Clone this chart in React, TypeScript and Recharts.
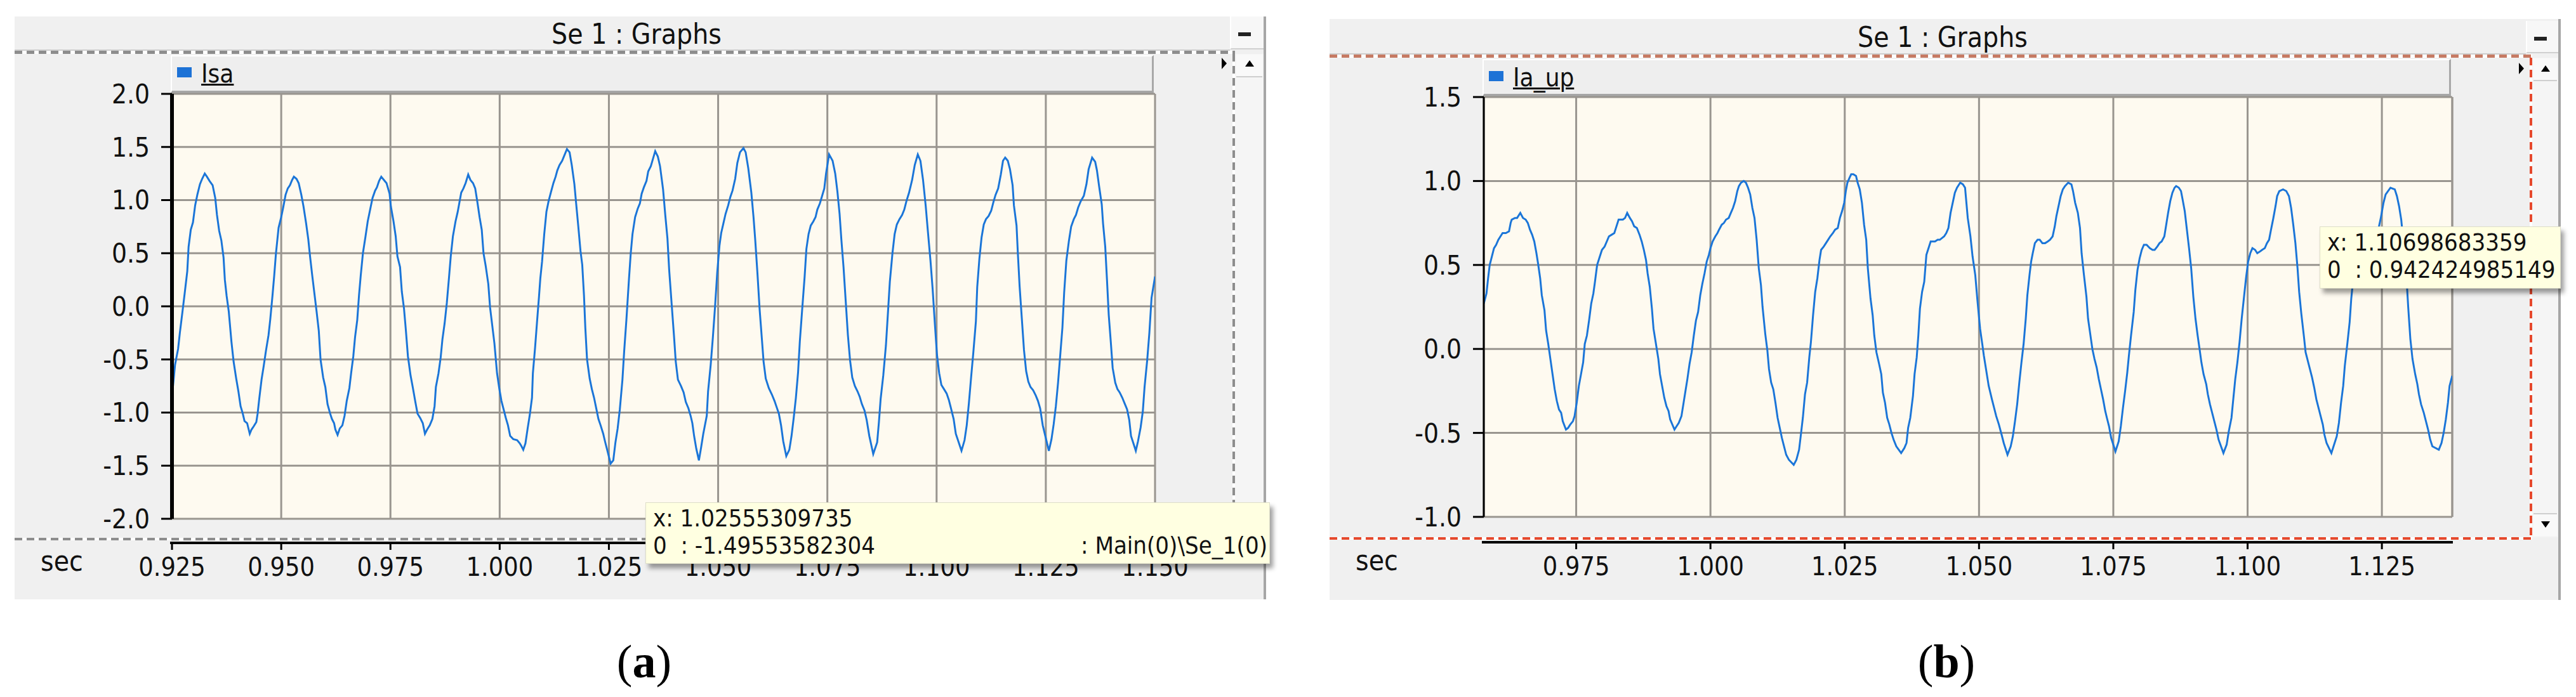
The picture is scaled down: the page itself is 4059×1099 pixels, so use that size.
import React from 'react'
import { LineChart, Line, XAxis, YAxis, CartesianGrid, ReferenceLine } from 'recharts'

const UI_FONT = "'DejaVu Sans Condensed', 'Liberation Sans', Arial, sans-serif"
const BLUE = '#1b75d8'
const GRID = '#99958f'
const CREAM = '#fefaf0'
const CHROME = '#f0f0f0'

// Isa (panel a), [time in s, value]
const isaPoints: [number, number][] = [
  [0.925, -0.85], [0.9257, -0.55], [0.9264, -0.4], [0.9268, -0.25], [0.9274, -0.05], [0.9279, 0.12], [0.9285, 0.33],
  [0.9288, 0.56], [0.9293, 0.72], [0.9298, 0.79], [0.9303, 0.95], [0.9308, 1.05], [0.9314, 1.15], [0.9319, 1.2],
  [0.9325, 1.25], [0.933, 1.22], [0.9336, 1.18], [0.9343, 1.14], [0.9349, 1.02], [0.9353, 0.86], [0.9358, 0.71],
  [0.9363, 0.62], [0.9368, 0.46], [0.9371, 0.25], [0.9375, 0.1], [0.938, -0.05], [0.9386, -0.33], [0.9391, -0.52],
  [0.9397, -0.68], [0.9402, -0.8], [0.9407, -0.94], [0.9412, -1.01], [0.9416, -1.08], [0.9422, -1.1], [0.9428, -1.2],
  [0.9432, -1.16], [0.9437, -1.13], [0.9443, -1.09], [0.9446, -1.01], [0.945, -0.86], [0.9455, -0.69], [0.946, -0.56],
  [0.9465, -0.42], [0.9471, -0.27], [0.9475, -0.12], [0.948, 0.1], [0.9484, 0.29], [0.9488, 0.5], [0.9494, 0.74],
  [0.95, 0.84], [0.9505, 0.94], [0.951, 1.05], [0.9515, 1.11], [0.952, 1.14], [0.9525, 1.19], [0.9529, 1.22],
  [0.9535, 1.2], [0.954, 1.16], [0.9546, 1.05], [0.9551, 0.94], [0.9557, 0.78], [0.9562, 0.63], [0.9566, 0.47],
  [0.9571, 0.29], [0.9576, 0.12], [0.9581, -0.05], [0.9586, -0.23], [0.959, -0.5], [0.9596, -0.67], [0.9601, -0.76],
  [0.9606, -0.92], [0.9612, -1.01], [0.9616, -1.06], [0.9621, -1.1], [0.9624, -1.16], [0.9629, -1.21], [0.9634, -1.15],
  [0.964, -1.12], [0.9645, -1.03], [0.965, -0.89], [0.9656, -0.77], [0.966, -0.63], [0.9665, -0.47], [0.9669, -0.29],
  [0.9674, -0.13], [0.9678, 0.1], [0.9682, 0.29], [0.9687, 0.5], [0.9693, 0.66], [0.9698, 0.8], [0.9704, 0.92],
  [0.9709, 1.02], [0.9715, 1.09], [0.9719, 1.12], [0.9724, 1.18], [0.9729, 1.22], [0.9735, 1.19], [0.9741, 1.16],
  [0.9748, 1.06], [0.9751, 0.94], [0.9757, 0.8], [0.9762, 0.66], [0.9766, 0.47], [0.9772, 0.37], [0.9776, 0.14],
  [0.9781, -0.02], [0.9785, -0.21], [0.979, -0.47], [0.9796, -0.65], [0.9801, -0.76], [0.9807, -0.9], [0.9812, -1.01],
  [0.9818, -1.05], [0.9824, -1.1], [0.9829, -1.2], [0.9834, -1.16], [0.984, -1.12], [0.9846, -1.06], [0.9851, -0.94],
  [0.9854, -0.76], [0.986, -0.63], [0.9865, -0.48], [0.9869, -0.31], [0.9874, -0.16], [0.9879, 0.03], [0.9884, 0.27],
  [0.9888, 0.47], [0.9893, 0.66], [0.9899, 0.8], [0.9904, 0.89], [0.9908, 0.98], [0.9912, 1.07], [0.9917, 1.11],
  [0.9922, 1.16], [0.9928, 1.24], [0.9933, 1.19], [0.9939, 1.16], [0.9944, 1.11], [0.9949, 0.98], [0.9954, 0.84],
  [0.9959, 0.72], [0.9963, 0.5], [0.9968, 0.38], [0.9974, 0.21], [0.9978, -0.01], [0.9983, -0.18], [0.9988, -0.35],
  [0.9994, -0.63], [0.9999, -0.77], [1.0004, -0.89], [1.0009, -0.97], [1.0014, -1.05], [1.0019, -1.12], [1.0024, -1.22],
  [1.0031, -1.25], [1.004, -1.26], [1.0046, -1.29], [1.0049, -1.31], [1.0054, -1.35], [1.0059, -1.29], [1.0064, -1.15],
  [1.0069, -1.02], [1.0074, -0.86], [1.0076, -0.63], [1.0081, -0.39], [1.0086, -0.12], [1.009, 0.09], [1.0093, 0.26],
  [1.0097, 0.42], [1.0102, 0.68], [1.0107, 0.89], [1.0112, 0.99], [1.0117, 1.07], [1.0123, 1.16], [1.0128, 1.22],
  [1.0132, 1.28], [1.0137, 1.33], [1.0143, 1.37], [1.0148, 1.42], [1.0154, 1.48], [1.016, 1.45], [1.0165, 1.33],
  [1.0171, 1.15], [1.0175, 0.97], [1.018, 0.75], [1.0185, 0.52], [1.0189, 0.39], [1.0193, 0.1], [1.0196, -0.2],
  [1.02, -0.5], [1.0206, -0.68], [1.0211, -0.78], [1.0216, -0.86], [1.0222, -0.98], [1.0226, -1.06], [1.0231, -1.12],
  [1.0237, -1.2], [1.0241, -1.27], [1.0246, -1.35], [1.0254, -1.48], [1.026, -1.45], [1.0265, -1.28], [1.027, -1.15],
  [1.0275, -0.97], [1.0281, -0.69], [1.0285, -0.42], [1.029, -0.13], [1.0296, 0.26], [1.03, 0.5], [1.0304, 0.68],
  [1.031, 0.84], [1.0316, 0.92], [1.0321, 0.97], [1.0325, 1.06], [1.033, 1.12], [1.0336, 1.18], [1.034, 1.27],
  [1.0346, 1.32], [1.0351, 1.39], [1.0356, 1.46], [1.0362, 1.41], [1.0367, 1.32], [1.0374, 1.1], [1.0379, 0.86],
  [1.0384, 0.64], [1.0388, 0.34], [1.0394, 0.0], [1.0399, -0.28], [1.0403, -0.52], [1.0408, -0.69], [1.0415, -0.75],
  [1.0421, -0.81], [1.0426, -0.9], [1.0432, -0.96], [1.0437, -1.03], [1.0441, -1.1], [1.0445, -1.22], [1.045, -1.34],
  [1.0456, -1.45], [1.0461, -1.33], [1.0466, -1.2], [1.0474, -1.03], [1.0477, -0.8], [1.0483, -0.55], [1.0488, -0.29],
  [1.0493, 0.0], [1.0498, 0.32], [1.0503, 0.57], [1.0507, 0.69], [1.0512, 0.78], [1.0517, 0.87], [1.0523, 0.95],
  [1.0528, 1.03], [1.0533, 1.09], [1.0539, 1.2], [1.0544, 1.35], [1.055, 1.45], [1.0558, 1.49], [1.0563, 1.45],
  [1.0569, 1.3], [1.0576, 1.07], [1.0581, 0.84], [1.0585, 0.62], [1.059, 0.31], [1.0595, -0.03], [1.06, -0.3],
  [1.0604, -0.52], [1.0609, -0.68], [1.0616, -0.77], [1.0623, -0.83], [1.0629, -0.89], [1.0634, -0.95], [1.0639, -1.01],
  [1.0644, -1.12], [1.0649, -1.27], [1.0656, -1.41], [1.0663, -1.35], [1.0668, -1.22], [1.0673, -1.05], [1.0678, -0.86],
  [1.0683, -0.62], [1.0687, -0.33], [1.0692, -0.05], [1.0698, 0.28], [1.0702, 0.54], [1.0707, 0.68], [1.0712, 0.76],
  [1.0718, 0.8], [1.0723, 0.84], [1.0727, 0.91], [1.0733, 0.97], [1.0738, 1.04], [1.0743, 1.11], [1.0747, 1.25],
  [1.0754, 1.43], [1.0762, 1.37], [1.0768, 1.25], [1.0773, 1.08], [1.0778, 0.87], [1.0782, 0.63], [1.0787, 0.37],
  [1.0792, 0.05], [1.0797, -0.27], [1.0802, -0.51], [1.0807, -0.67], [1.0813, -0.75], [1.0819, -0.8], [1.0824, -0.85],
  [1.0829, -0.92], [1.0835, -0.98], [1.084, -1.07], [1.0846, -1.22], [1.0855, -1.39], [1.0864, -1.28], [1.0868, -1.09],
  [1.0872, -0.87], [1.0878, -0.65], [1.0884, -0.37], [1.0889, -0.04], [1.0893, 0.23], [1.0899, 0.5], [1.0904, 0.68],
  [1.0909, 0.77], [1.0915, 0.82], [1.0921, 0.86], [1.0926, 0.91], [1.0931, 0.99], [1.0937, 1.07], [1.0944, 1.19],
  [1.095, 1.33], [1.0957, 1.43], [1.0963, 1.37], [1.0969, 1.19], [1.0975, 0.95], [1.098, 0.71], [1.0986, 0.43],
  [1.0991, 0.16], [1.0996, -0.16], [1.1001, -0.46], [1.1006, -0.63], [1.1011, -0.74], [1.1017, -0.78], [1.1023, -0.82],
  [1.1028, -0.88], [1.1033, -0.96], [1.1039, -1.06], [1.1044, -1.2], [1.1057, -1.36], [1.1064, -1.26], [1.1069, -1.12],
  [1.1074, -0.91], [1.1079, -0.67], [1.1084, -0.44], [1.109, -0.14], [1.1093, 0.18], [1.1098, 0.45], [1.1103, 0.65],
  [1.1108, 0.77], [1.1113, 0.82], [1.1119, 0.85], [1.1125, 0.9], [1.113, 0.98], [1.1135, 1.05], [1.1141, 1.11],
  [1.1147, 1.24], [1.1152, 1.37], [1.1157, 1.4], [1.1163, 1.37], [1.1168, 1.29], [1.1174, 1.14], [1.1177, 0.95],
  [1.1183, 0.76], [1.1186, 0.5], [1.119, 0.19], [1.1195, -0.11], [1.12, -0.41], [1.1205, -0.61], [1.121, -0.71],
  [1.1215, -0.76], [1.1221, -0.79], [1.1227, -0.84], [1.1232, -0.89], [1.1237, -0.96], [1.1243, -1.12], [1.1257, -1.36],
  [1.1263, -1.25], [1.1268, -1.11], [1.1273, -0.94], [1.1278, -0.72], [1.1283, -0.46], [1.1288, -0.2], [1.1292, 0.13],
  [1.1297, 0.43], [1.1303, 0.62], [1.1308, 0.75], [1.1314, 0.82], [1.1319, 0.86], [1.1324, 0.93], [1.133, 0.99],
  [1.1337, 1.04], [1.1343, 1.15], [1.1348, 1.29], [1.1356, 1.4], [1.1363, 1.36], [1.1367, 1.28], [1.1372, 1.13],
  [1.1378, 0.96], [1.1381, 0.78], [1.1386, 0.56], [1.139, 0.25], [1.1394, -0.08], [1.1399, -0.35], [1.1403, -0.58],
  [1.1409, -0.72], [1.1414, -0.78], [1.1419, -0.81], [1.1425, -0.86], [1.1431, -0.92], [1.1436, -0.97], [1.1441, -1.07],
  [1.1445, -1.22], [1.1456, -1.36], [1.1461, -1.27], [1.1467, -1.14], [1.1472, -0.99], [1.1476, -0.76], [1.1482, -0.51],
  [1.1487, -0.25], [1.1492, 0.08], [1.15, 0.28],
]

// Ia_up (panel b)
const iaUpPoints: [number, number][] = [
  [0.9578, 0.27], [0.9583, 0.33], [0.9586, 0.42], [0.9589, 0.5], [0.9593, 0.55], [0.9597, 0.6], [0.9601, 0.62],
  [0.9605, 0.65], [0.9609, 0.67], [0.9613, 0.69], [0.9619, 0.69], [0.9625, 0.7], [0.9628, 0.75], [0.963, 0.77],
  [0.9636, 0.78], [0.964, 0.78], [0.9646, 0.81], [0.9651, 0.78], [0.9656, 0.77], [0.966, 0.75], [0.9664, 0.71],
  [0.9668, 0.68], [0.9672, 0.64], [0.9676, 0.57], [0.9679, 0.51], [0.9683, 0.42], [0.9686, 0.32], [0.9691, 0.23],
  [0.9694, 0.11], [0.9698, 0.03], [0.9702, -0.06], [0.9706, -0.15], [0.971, -0.24], [0.9714, -0.31], [0.9718, -0.36],
  [0.9722, -0.38], [0.9725, -0.43], [0.9731, -0.48], [0.9735, -0.47], [0.9739, -0.45], [0.9744, -0.43], [0.9747, -0.4],
  [0.9751, -0.32], [0.9755, -0.22], [0.9759, -0.15], [0.9763, -0.08], [0.9766, 0.03], [0.977, 0.08], [0.9774, 0.17],
  [0.9778, 0.27], [0.9782, 0.33], [0.9785, 0.4], [0.9789, 0.5], [0.9794, 0.55], [0.9798, 0.59], [0.9803, 0.61],
  [0.9807, 0.64], [0.9811, 0.67], [0.9816, 0.68], [0.9821, 0.69], [0.9825, 0.73], [0.9829, 0.77], [0.9837, 0.77],
  [0.9841, 0.78], [0.9845, 0.81], [0.985, 0.78], [0.9854, 0.76], [0.9858, 0.73], [0.9863, 0.72], [0.9868, 0.68],
  [0.9872, 0.64], [0.9876, 0.59], [0.988, 0.53], [0.9883, 0.45], [0.9887, 0.37], [0.9891, 0.24], [0.9894, 0.12],
  [0.9898, 0.04], [0.9903, -0.06], [0.9906, -0.15], [0.991, -0.22], [0.9914, -0.29], [0.9918, -0.34], [0.9922, -0.37],
  [0.9925, -0.42], [0.9933, -0.48], [0.9937, -0.46], [0.9941, -0.44], [0.9946, -0.4], [0.995, -0.32], [0.9953, -0.26],
  [0.9957, -0.18], [0.9961, -0.09], [0.9965, -0.02], [0.9969, 0.08], [0.9973, 0.17], [0.9977, 0.22], [0.9981, 0.32],
  [0.9985, 0.39], [0.9989, 0.45], [0.9993, 0.52], [0.9997, 0.56], [1.0, 0.6], [1.0004, 0.64], [1.0009, 0.67],
  [1.0013, 0.69], [1.0016, 0.71], [1.0021, 0.74], [1.0025, 0.75], [1.0029, 0.77], [1.0034, 0.78], [1.0038, 0.81],
  [1.0042, 0.84], [1.0046, 0.88], [1.005, 0.94], [1.0053, 0.97], [1.0057, 0.99], [1.0062, 1.0], [1.0066, 0.99],
  [1.007, 0.96], [1.0074, 0.92], [1.0078, 0.84], [1.0082, 0.78], [1.0086, 0.65], [1.009, 0.48], [1.0094, 0.38],
  [1.0097, 0.25], [1.0102, 0.09], [1.0106, -0.01], [1.0109, -0.12], [1.0113, -0.2], [1.0117, -0.24], [1.0121, -0.32],
  [1.0125, -0.41], [1.0129, -0.47], [1.0133, -0.53], [1.0137, -0.58], [1.0141, -0.63], [1.0146, -0.66], [1.0155, -0.69],
  [1.016, -0.66], [1.0165, -0.6], [1.0168, -0.52], [1.0172, -0.41], [1.0176, -0.27], [1.018, -0.2], [1.0184, -0.05],
  [1.0187, 0.04], [1.0191, 0.2], [1.0195, 0.34], [1.0199, 0.42], [1.0203, 0.53], [1.0206, 0.59], [1.0211, 0.61],
  [1.0215, 0.63], [1.0219, 0.65], [1.0223, 0.67], [1.0228, 0.69], [1.0232, 0.71], [1.0237, 0.72], [1.0241, 0.78],
  [1.0245, 0.82], [1.0249, 0.87], [1.0252, 0.94], [1.0255, 0.99], [1.0259, 1.02], [1.0262, 1.04], [1.0266, 1.04],
  [1.0271, 1.03], [1.0274, 0.99], [1.0278, 0.95], [1.0282, 0.87], [1.0286, 0.74], [1.029, 0.65], [1.0293, 0.48],
  [1.0298, 0.3], [1.0302, 0.2], [1.0305, 0.08], [1.0309, -0.02], [1.0314, -0.09], [1.0318, -0.15], [1.0321, -0.26],
  [1.0325, -0.32], [1.0329, -0.41], [1.0333, -0.45], [1.0337, -0.5], [1.0341, -0.54], [1.0346, -0.58], [1.0355, -0.62],
  [1.0361, -0.59], [1.0365, -0.56], [1.0368, -0.47], [1.0372, -0.41], [1.0377, -0.28], [1.038, -0.15], [1.0384, -0.05],
  [1.0387, 0.08], [1.039, 0.24], [1.0394, 0.34], [1.0398, 0.4], [1.0402, 0.56], [1.0406, 0.6], [1.041, 0.64],
  [1.0414, 0.64], [1.0418, 0.64], [1.0423, 0.65], [1.0427, 0.65], [1.0431, 0.66], [1.0435, 0.67], [1.0439, 0.69],
  [1.0443, 0.72], [1.0447, 0.81], [1.0451, 0.87], [1.0455, 0.93], [1.0459, 0.96], [1.0465, 0.99], [1.047, 0.98],
  [1.0474, 0.96], [1.0479, 0.78], [1.0484, 0.67], [1.0488, 0.55], [1.0493, 0.44], [1.0497, 0.29], [1.0502, 0.12],
  [1.0506, 0.03], [1.0509, -0.04], [1.0513, -0.12], [1.0518, -0.22], [1.0524, -0.3], [1.0528, -0.35], [1.0532, -0.4],
  [1.0537, -0.45], [1.0542, -0.51], [1.0546, -0.56], [1.0553, -0.63], [1.0559, -0.58], [1.0563, -0.52], [1.0567, -0.43],
  [1.0571, -0.33], [1.0575, -0.2], [1.0579, -0.08], [1.0583, 0.03], [1.0587, 0.18], [1.059, 0.32], [1.0594, 0.44],
  [1.0597, 0.52], [1.06, 0.57], [1.0604, 0.63], [1.0609, 0.65], [1.0613, 0.65], [1.0618, 0.63], [1.0623, 0.63],
  [1.0628, 0.64], [1.0632, 0.65], [1.0637, 0.67], [1.0641, 0.73], [1.0644, 0.79], [1.0648, 0.85], [1.0652, 0.91],
  [1.0656, 0.95], [1.066, 0.97], [1.0666, 0.99], [1.0672, 0.98], [1.0675, 0.94], [1.0679, 0.87], [1.0684, 0.81],
  [1.0688, 0.72], [1.0691, 0.57], [1.0695, 0.45], [1.07, 0.31], [1.0703, 0.18], [1.0707, 0.09], [1.0711, 0.0],
  [1.0715, -0.06], [1.0719, -0.11], [1.0723, -0.18], [1.0727, -0.24], [1.0731, -0.3], [1.0735, -0.37], [1.0738, -0.41],
  [1.0742, -0.46], [1.0746, -0.53], [1.0754, -0.61], [1.076, -0.55], [1.0764, -0.46], [1.0768, -0.35], [1.0772, -0.25],
  [1.0776, -0.14], [1.0779, -0.04], [1.0783, 0.08], [1.0788, 0.22], [1.0791, 0.35], [1.0795, 0.47], [1.0799, 0.54],
  [1.0803, 0.59], [1.0807, 0.62], [1.0812, 0.62], [1.0818, 0.6], [1.0823, 0.59], [1.0827, 0.59], [1.0832, 0.61],
  [1.0836, 0.63], [1.084, 0.64], [1.0845, 0.67], [1.0848, 0.73], [1.0852, 0.81], [1.0856, 0.88], [1.086, 0.93],
  [1.0864, 0.96], [1.0867, 0.97], [1.0872, 0.96], [1.0876, 0.94], [1.0879, 0.89], [1.0883, 0.82], [1.0887, 0.71],
  [1.0891, 0.6], [1.0895, 0.48], [1.0899, 0.31], [1.0903, 0.18], [1.0907, 0.08], [1.0911, -0.01], [1.0914, -0.08],
  [1.0918, -0.15], [1.0923, -0.21], [1.0926, -0.27], [1.093, -0.33], [1.0934, -0.38], [1.0938, -0.43], [1.0942, -0.48],
  [1.0946, -0.54], [1.0955, -0.62], [1.0961, -0.57], [1.0965, -0.49], [1.097, -0.41], [1.0973, -0.31], [1.0977, -0.18],
  [1.0981, -0.08], [1.0985, 0.04], [1.0989, 0.18], [1.0993, 0.3], [1.0997, 0.42], [1.1001, 0.52], [1.1005, 0.57],
  [1.1009, 0.6], [1.1014, 0.59], [1.1018, 0.57], [1.1023, 0.58], [1.1027, 0.59], [1.1032, 0.6], [1.1036, 0.63],
  [1.104, 0.65], [1.1043, 0.7], [1.1048, 0.78], [1.1052, 0.85], [1.1055, 0.91], [1.1059, 0.94], [1.1066, 0.95],
  [1.1072, 0.94], [1.1077, 0.91], [1.1081, 0.84], [1.1085, 0.74], [1.1089, 0.63], [1.1093, 0.48], [1.1096, 0.34],
  [1.11, 0.21], [1.1105, 0.07], [1.1108, -0.02], [1.1112, -0.07], [1.1116, -0.12], [1.112, -0.17], [1.1124, -0.23],
  [1.1128, -0.3], [1.1132, -0.35], [1.1136, -0.4], [1.114, -0.45], [1.1143, -0.51], [1.1147, -0.56], [1.1156, -0.62],
  [1.1162, -0.56], [1.1166, -0.52], [1.117, -0.44], [1.1174, -0.32], [1.1178, -0.22], [1.1181, -0.1], [1.1186, 0.04],
  [1.119, 0.16], [1.1193, 0.3], [1.1197, 0.43], [1.1203, 0.53], [1.1209, 0.59], [1.1215, 0.61], [1.1221, 0.6],
  [1.1227, 0.61], [1.1232, 0.64], [1.1238, 0.67], [1.1244, 0.72], [1.1248, 0.78], [1.1253, 0.87], [1.1257, 0.92],
  [1.1266, 0.96], [1.1274, 0.95], [1.1278, 0.91], [1.1282, 0.85], [1.1286, 0.77], [1.1291, 0.61], [1.1295, 0.47],
  [1.1299, 0.25], [1.1303, 0.06], [1.1307, -0.06], [1.1312, -0.15], [1.1316, -0.21], [1.1319, -0.27], [1.1323, -0.33],
  [1.1328, -0.38], [1.1332, -0.43], [1.1336, -0.48], [1.134, -0.54], [1.1344, -0.58], [1.1356, -0.6], [1.1361, -0.56],
  [1.1365, -0.5], [1.1369, -0.42], [1.1373, -0.32], [1.1376, -0.22], [1.1381, -0.16],
]

const isaXTicks = [0.925, 0.95, 0.975, 1.0, 1.025, 1.05, 1.075, 1.1, 1.125, 1.15]
const isaYTicks = [-2, -1.5, -1, -0.5, 0, 0.5, 1, 1.5, 2]
const iaUpXTicks = [0.975, 1.0, 1.025, 1.05, 1.075, 1.1, 1.125]
const iaUpYTicks = [-1, -0.5, 0, 0.5, 1, 1.5]

type Rect = { l: number; t: number; r: number; b: number }

type PanelSpec = {
  name: string
  points: [number, number][]
  xDomain: [number, number]
  yDomain: [number, number]
  xTicks: number[]
  yTicks: number[]
  win: Rect
  plot: Rect
  titleX: number
  titleBottom: number
  minBtn: Rect
  rightDashX: number
  bottomDashY: number
  axisStroke: number
  topDash: string
  sideDash: string
  markerY: number
  secX: number
  edgeLine: boolean
  readout: string[]
  readoutPath?: string
  readoutBox: Rect
}

const panelA: PanelSpec = {
  name: 'Isa',
  points: isaPoints,
  xDomain: [0.925, 1.15],
  yDomain: [-2, 2],
  xTicks: isaXTicks,
  yTicks: isaYTicks,
  win: { l: 23, t: 26, r: 1995, b: 945 },
  plot: { l: 271, t: 148, r: 1820, b: 818 },
  titleX: 1003,
  titleBottom: 80,
  minBtn: { l: 1938, t: 26, r: 1991, b: 78 },
  rightDashX: 1942,
  bottomDashY: 848,
  axisStroke: 6,
  topDash: '#8d8d8d',
  sideDash: '#8d8d8d',
  markerY: 100,
  secX: 64,
  edgeLine: false,
  readout: ['x: 1.02555309735', '0  : -1.49553582304'],
  readoutPath: ': Main(0)\\Se_1(0)',
  readoutBox: { l: 1017, t: 792, r: 2001, b: 889 },
}

const panelB: PanelSpec = {
  name: 'Ia_up',
  points: iaUpPoints,
  xDomain: [0.9578, 1.1381],
  yDomain: [-1, 1.5],
  xTicks: iaUpXTicks,
  yTicks: iaUpYTicks,
  win: { l: 2095, t: 30, r: 4035, b: 946 },
  plot: { l: 2338, t: 153, r: 3864, b: 815 },
  titleX: 3061,
  titleBottom: 86,
  minBtn: { l: 3980, t: 33, r: 4031, b: 84 },
  rightDashX: 3986,
  bottomDashY: 847,
  axisStroke: 3,
  topDash: '#c67a63',
  sideDash: '#e6492d',
  markerY: 108,
  secX: 2136,
  edgeLine: true,
  readout: ['x: 1.10698683359', '0  : 0.942424985149'],
  readoutBox: { l: 3655, t: 357, r: 4035, b: 455 },
}

const box = (l: number, t: number, w: number, h: number, extra: React.CSSProperties = {}): React.CSSProperties => ({
  position: 'absolute', left: l, top: t, width: w, height: h, boxSizing: 'border-box', ...extra,
})
const hDash = (c: string) => `repeating-linear-gradient(90deg, ${c} 0 12px, #ffffff 12px 19px)`
const vDash = (c: string) => `repeating-linear-gradient(180deg, ${c} 0 12px, #ffffff 12px 19px)`

function Txt({ x, y, size, anchor = 'start', children, style }: {
  x: number; y: number; size: number; anchor?: 'start' | 'middle' | 'end'; children: React.ReactNode; style?: React.CSSProperties
}) {
  const lh = Math.round(size * 1.2)
  const shift = anchor === 'middle' ? 'translateX(-50%)' : anchor === 'end' ? 'translateX(-100%)' : undefined
  return (
    <div style={{
      position: 'absolute', left: x, top: y - lh / 2, height: lh, lineHeight: `${lh}px`, fontSize: size,
      fontFamily: UI_FONT, color: '#111', whiteSpace: 'pre', transform: shift, ...style,
    }}>{children}</div>
  )
}

// x tick: the PSCAD time axis sits below the plot, under the dashed separator
function makeSecTick(axisGap: number) {
  return function SecTick(props: any) {
    const { x, y, payload } = props
    return (
      <g>
        <line x1={x} x2={x} y1={y + axisGap} y2={y + axisGap + 11} stroke="#000" strokeWidth={3} />
        <text x={x} y={y + axisGap + 38} textAnchor="middle" dominantBaseline="central"
          fontSize={41} fontFamily={UI_FONT} fill="#111">{Number(payload.value).toFixed(3)}</text>
      </g>
    )
  }
}

const TOP_PAD = 40
const RIGHT_PAD = 80
const AXIS_H = 140

function SignalChart({ s }: { s: PanelSpec }) {
  const data = s.points.map(([t, v]) => ({ t, v }))
  const { plot, win } = s
  const width = plot.r - win.l + RIGHT_PAD
  const height = plot.b - plot.t + TOP_PAD + AXIS_H
  const axisGap = s.bottomDashY + 8 - plot.b
  return (
    <div style={{ position: 'absolute', left: win.l, top: plot.t - TOP_PAD }}>
      <LineChart width={width} height={height} data={data} margin={{ top: TOP_PAD, right: RIGHT_PAD, bottom: 0, left: 0 }}>
        <CartesianGrid stroke={GRID} strokeWidth={3} fill={CREAM} fillOpacity={1} />
        <XAxis type="number" dataKey="t" domain={s.xDomain} ticks={s.xTicks} interval={0} allowDataOverflow
          height={AXIS_H} tickSize={0} tickMargin={0} axisLine={false} tickLine={false} tick={makeSecTick(axisGap)} />
        <YAxis type="number" domain={s.yDomain} ticks={s.yTicks} interval={0} allowDataOverflow
          width={plot.l - win.l} tickSize={17} tickMargin={18}
          axisLine={{ stroke: '#000', strokeWidth: s.axisStroke }} tickLine={{ stroke: '#000', strokeWidth: 3 }}
          tick={{ fontSize: 42, fill: '#111', fontFamily: UI_FONT }} tickFormatter={(v: number) => v.toFixed(1)} />
        {s.edgeLine && <ReferenceLine x={s.xDomain[1]} stroke={GRID} strokeWidth={3} />}
        <Line type="linear" dataKey="v" stroke={BLUE} strokeWidth={3} dot={false} activeDot={false}
          isAnimationActive={false} />
      </LineChart>
    </div>
  )
}

function Arrow({ x, y, dir }: { x: number; y: number; dir: 'up' | 'down' | 'right' }) {
  if (dir === 'right') {
    return <div style={box(x, y, 0, 0, { borderTop: '9px solid transparent', borderBottom: '9px solid transparent', borderLeft: '8px solid #000' })} />
  }
  return (
    <div style={box(x - 7, y - 5, 0, 0, dir === 'up'
      ? { borderLeft: '7px solid transparent', borderRight: '7px solid transparent', borderBottom: '10px solid #000' }
      : { borderLeft: '7px solid transparent', borderRight: '7px solid transparent', borderTop: '10px solid #000' })} />
  )
}

function Panel({ s }: { s: PanelSpec }) {
  const { win, plot, minBtn } = s
  const legendTop = s.titleBottom + 7
  const rb = s.readoutBox
  return (
    <>
      <div style={box(win.l, win.t, win.r - win.l, win.b - win.t, { background: CHROME })} />
      <div style={box(win.r - 4, win.t, 4, win.b - win.t, { background: '#a6a6a6' })} />
      <div style={box(win.l, s.titleBottom - 2, minBtn.l - win.l, 2, { background: '#cdcdcd' })} />
      <Txt x={s.titleX} y={(win.t + s.titleBottom) / 2} size={44} anchor="middle">Se 1 : Graphs</Txt>
      <div style={box(minBtn.l, minBtn.t, minBtn.r - minBtn.l, minBtn.b - minBtn.t, { background: '#f7f7f7', borderLeft: '2px solid #ffffff', borderBottom: '2px solid #d0d0d0' })} />
      <div style={box(minBtn.l + 13, (minBtn.t + minBtn.b) / 2 - 1, 20, 6, { background: '#222' })} />

      <div style={box(win.l, s.titleBottom, s.rightDashX + 4 - win.l, 5, { background: hDash(s.topDash) })} />
      <div style={box(s.rightDashX, s.titleBottom + 5, 4, s.bottomDashY - s.titleBottom - 5, { background: vDash(s.sideDash) })} />
      <div style={box(win.l, s.bottomDashY, s.rightDashX + 4 - win.l, 4, { background: hDash(s.sideDash) })} />

      <div style={box(s.rightDashX + 4, s.titleBottom + 5, win.r - 4 - s.rightDashX - 4, s.bottomDashY - s.titleBottom - 5, { background: '#f5f5f5' })} />
      <div style={box(s.rightDashX + 6, s.titleBottom + 6, win.r - s.rightDashX - 12, 36, { background: '#f9f9f9', borderBottom: '2px solid #cfcfcf' })} />
      <Arrow x={(s.rightDashX + win.r) / 2} y={s.markerY} dir="up" />
      {s.edgeLine && (
        <>
          <div style={box(s.rightDashX + 6, s.bottomDashY - 38, win.r - s.rightDashX - 12, 36, { background: '#f9f9f9', borderTop: '2px solid #cfcfcf' })} />
          <Arrow x={(s.rightDashX + win.r) / 2} y={s.bottomDashY - 20} dir="down" />
        </>
      )}
      <Arrow x={s.rightDashX - 17} y={s.markerY - 9} dir="right" />

      <div style={box(plot.l - 2, legendTop, plot.r - plot.l, plot.t - legendTop, {
        background: '#eeeeee', borderTop: '2px solid #ffffff', borderLeft: '2px solid #ffffff',
        borderRight: '3px solid #a8a8a8', borderBottom: '5px solid #a6a6a6',
      })} />
      <div style={box(plot.l + 8, legendTop + 19, 23, 16, { background: '#1d72d6' })} />
      <Txt x={plot.l + 46} y={legendTop + 29} size={40} style={{ textDecoration: 'underline', textDecorationThickness: 3 }}>{s.name}</Txt>

      <div style={box(plot.l - 3, s.bottomDashY + 6, plot.r - plot.l + 4, 4, { background: '#000' })} />
      <Txt x={s.secX} y={s.bottomDashY + 36} size={44}>sec</Txt>

      <SignalChart s={s} />

      <div style={box(rb.l, rb.t, rb.r - rb.l, rb.b - rb.t, {
        background: '#ffffe1', border: '1px solid #dedec8', boxShadow: '5px 7px 7px rgba(0,0,0,0.38)',
      })} />
      <Txt x={rb.l + 12} y={rb.t + 25} size={38}>{s.readout[0]}</Txt>
      <Txt x={rb.l + 12} y={rb.t + 68} size={38}>{s.readout[1]}</Txt>
      {s.readoutPath && <Txt x={rb.r - 4} y={rb.t + 68} size={38} anchor="end">{s.readoutPath}</Txt>}
    </>
  )
}

function Caption({ x, letter }: { x: number; letter: string }) {
  return (
    <div style={{
      position: 'absolute', left: x, top: 995, transform: 'translateX(-50%)', fontSize: 74, lineHeight: '96px',
      fontFamily: "'Liberation Serif', 'Times New Roman', serif", color: '#000',
    }}>(<b>{letter}</b>)</div>
  )
}

export default function App() {
  return (
    <div style={{ position: 'absolute', left: 0, top: 0, width: 4059, height: 1099, background: '#ffffff', overflow: 'hidden' }}>
      <Panel s={panelA} />
      <Panel s={panelB} />
      <Caption x={1015} letter="a" />
      <Caption x={3067} letter="b" />
    </div>
  )
}
